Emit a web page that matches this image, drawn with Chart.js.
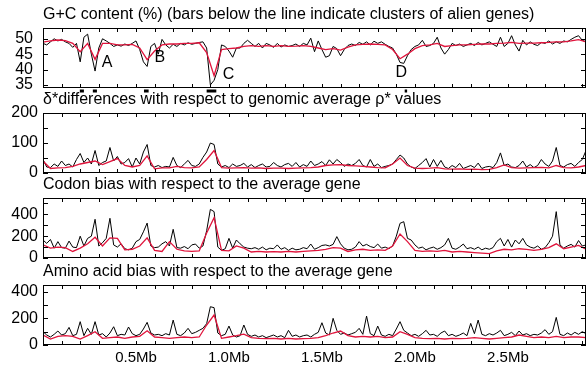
<!DOCTYPE html>
<html>
<head>
<meta charset="utf-8">
<script src="https://cdn.jsdelivr.net/npm/chart.js@4.4.0/dist/chart.umd.min.js"></script>
<style>
  body { margin: 0; background: #fff; }
  #wrap { position: relative; width: 587px; height: 365px; overflow: hidden; }
  canvas { position: absolute; left: 0; }
</style>
</head>
<body>
<div id="wrap">
  <canvas id="c1" width="587" height="112" style="top:0px"></canvas>
  <canvas id="c2" width="587" height="112" style="top:85px"></canvas>
  <canvas id="c3" width="587" height="112" style="top:170px"></canvas>
  <canvas id="c4" width="587" height="108" style="top:257px"></canvas>
</div>
<script>
// window spacing (Mb) of the two curves
const fineStep = 0.02;
const smoothStep = 0.04;
const genomeEnd = 2.92;

// G+C content (%)
const gcBlack = [
  48.5, 48, 49, 50, 49.3, 49.8, 49, 48.5, 47.2, 48.5,
  42.5, 50.5, 51.5, 45, 39.5, 47, 50, 49.3, 48.5, 47.5,
  48, 47.6, 48.3, 47.8, 48.5, 49.3, 46.5, 42.5, 41, 47.5,
  48.5, 45, 49.8, 48, 47, 48.2, 47.5, 48.5, 48, 48.7,
  48.2, 48.5, 48.8, 49, 47, 35, 36.5, 40, 48, 47.5,
  46, 44, 47, 47, 48.5, 49.5, 48.5, 47.5, 48.5, 47,
  48.5, 48, 47.2, 48.5, 47.3, 48, 47.5, 47.8, 48.3, 47.5,
  48.5, 48, 50.2, 45.8, 49.3, 46.5, 44, 44.5, 47.5, 46.8,
  44.5, 46.5, 47.8, 48.3, 47.8, 48.8, 48.2, 49, 48, 49.2,
  48.5, 49, 48.2, 47.5, 47, 45, 42.3, 42, 44.5, 46.5,
  47.5, 48, 49.5, 47.5, 47.8, 48.5, 50.5, 47, 45, 46.5,
  48.5, 47.8, 48.3, 47.5, 48, 48.5, 47.8, 48.8, 48, 48.5,
  49, 48.2, 47.5, 50.5, 47.5, 48.5, 51, 48, 46, 49.5,
  48, 49, 48.2, 47.8, 48.8, 48.5, 49.3, 48.3, 49, 48.5,
  49.3, 49, 49.8, 50.5, 51, 49.5, 49
];
const gcRed = [
  48.9, 49.3, 49.6, 49.4, 48.5, 45.8, 48.5, 43.3, 48.5, 48.5,
  48, 48, 48.2, 47, 43.2, 46, 48, 48.3, 48.3, 48.5,
  48.5, 48.7, 45.5, 38, 46.5, 46.8, 47, 47.5, 47.8, 47.5,
  47.8, 47.5, 47.8, 47.5, 47.6, 47.8, 47.5, 47, 46.5, 46.8,
  46.3, 47.3, 48, 48.2, 48.3, 48.2, 48, 46.5, 43.5, 45,
  46.8, 47.8, 48, 48.5, 47.5, 47.8, 48, 48, 48.2, 48.3,
  48.3, 48.5, 48.6, 48.8, 48.5, 48.6, 48.6, 48.7, 48.8, 49,
  49, 49.3, 49.7, 49
];

// delta* differences
const deltaBlack = [
  45, 20, 18, 30, 22, 40, 25, 30, 20, 45,
  65, 35, 50, 30, 75, 25, 35, 40, 85, 40,
  55, 30, 35, 48, 20, 50, 30, 70, 95, 25,
  20, 25, 18, 22, 20, 52, 25, 18, 30, 42,
  25, 22, 30, 52, 70, 100, 95, 30, 20, 25,
  18, 30, 22, 25, 32, 20, 28, 18, 25, 30,
  20, 22, 35, 25, 20, 28, 32, 22, 35, 20,
  28, 22, 40, 25, 30, 38, 25, 44, 30, 45,
  35, 22, 30, 25, 32, 45, 25, 20, 45, 22,
  30, 18, 22, 25, 30, 45, 60, 50, 30, 20,
  15, 25, 35, 48, 20, 45, 22, 42, 20, 15,
  25, 18, 32, 15, 20, 25, 18, 33, 15, 20,
  22, 18, 35, 67, 25, 30, 20, 18, 25, 40,
  20, 28, 18, 25, 45, 30, 22, 40, 85, 25,
  20, 28, 32, 22, 35, 45, 75
];
const deltaRed = [
  40, 15, 17, 18, 22, 30, 35, 40, 28, 38,
  48, 25, 20, 25, 57, 14, 17, 17, 22, 18,
  17, 20, 45, 75, 18, 16, 17, 18, 16, 17,
  15, 16, 16, 15, 16, 17, 18, 20, 25, 27,
  28, 25, 24, 22, 20, 18, 17, 30, 50, 25,
  16, 15, 16, 18, 14, 13, 14, 12, 13, 11,
  12, 18, 27, 18, 16, 17, 18, 19, 17, 25,
  18, 17, 20, 25
];

// codon bias
const codonBlack = [
  165, 134, 170, 90, 150, 95, 90, 155, 100, 95,
  200, 110, 180, 200, 355, 110, 140, 180, 364, 120,
  100, 130, 85, 75, 90, 150, 170, 240, 320, 110,
  95, 100, 130, 150, 110, 263, 95, 90, 105, 85,
  120, 128, 90, 110, 250, 446, 425, 100, 70, 85,
  180, 90, 165, 130, 100, 90, 85, 95, 80, 100,
  75, 90, 85, 120, 80, 95, 70, 90, 75, 80,
  95, 85, 128, 80, 95, 115, 120, 110, 125, 196,
  130, 90, 75, 80, 100, 150, 110, 125, 105, 95,
  128, 90, 100, 85, 110, 200, 318, 333, 180, 165,
  120, 90, 100, 75, 90, 100, 80, 95, 120, 180,
  90, 80, 100, 128, 85, 95, 80, 100, 75, 90,
  80, 95, 150, 180, 110, 170, 100, 165, 130, 180,
  120, 100, 90, 110, 80, 95, 140, 200, 425, 120,
  90, 110, 125, 100, 160, 110, 120
];
const codonRed = [
  120, 90, 100, 95, 60, 90, 130, 190, 110, 185,
  180, 75, 80, 110, 185, 70, 60, 150, 80, 65,
  60, 65, 230, 370, 70, 65, 110, 90, 55, 60,
  55, 58, 55, 60, 55, 60, 65, 70, 80, 95,
  90, 60, 75, 80, 70, 75, 70, 110, 220, 150,
  70, 60, 65, 60, 70, 55, 60, 55, 50, 45,
  40, 65, 80, 75, 85, 80, 70, 80, 95, 130,
  85, 100, 115, 80
];

// amino acid bias
const aminoBlack = [
  100, 75, 60, 80, 105, 75, 85, 132, 70, 80,
  175, 70, 125, 80, 175, 75, 85, 60, 90, 137,
  70, 80, 75, 135, 85, 70, 80, 120, 170, 90,
  75, 80, 70, 85, 75, 187, 80, 70, 90, 125,
  85, 95, 110, 125, 160, 287, 280, 90, 70, 80,
  142, 75, 60, 70, 150, 80, 65, 75, 60, 70,
  55, 65, 75, 60, 70, 55, 110, 65, 75, 60,
  70, 75, 60, 80, 95, 167, 90, 75, 200, 110,
  80, 90, 75, 85, 95, 125, 80, 217, 85, 70,
  142, 75, 65, 80, 70, 120, 175, 110, 90, 70,
  80, 65, 85, 110, 75, 80, 65, 90, 105, 70,
  80, 65, 75, 90, 70, 162, 85, 187, 80, 70,
  85, 75, 90, 110, 70, 80, 95, 70, 105, 75,
  85, 70, 80, 75, 90, 115, 80, 100, 207, 80,
  70, 90, 75, 95, 80, 100, 85
];
const aminoRed = [
  75, 45, 65, 70, 65, 45, 70, 100, 50, 55,
  60, 50, 60, 65, 107, 60, 55, 50, 55, 60,
  55, 60, 150, 225, 50, 60, 70, 82, 55, 50,
  48, 50, 45, 50, 45, 48, 50, 55, 70, 90,
  105, 70, 60, 65, 60, 65, 55, 60, 100, 80,
  55, 50, 48, 50, 45, 50, 48, 50, 55, 50,
  45, 50, 55, 60, 75, 65, 55, 60, 55, 65,
  55, 60, 60, 55
];

// clusters of alien genes (Mb ranges) and region letters
const alienClusters = [[0.198, 0.22], [0.268, 0.29], [0.543, 0.568], [0.88, 0.932], [1.945, 1.958]];
const regionLetters = ['A', 'B', 'C', 'D'];
const regionPos = [[0.344, 42.4], [0.628, 43.8], [0.998, 38.2], [1.927, 38.9]];

const FONT = '"Liberation Sans", Arial, Helvetica, sans-serif';
const RED = '#e0143c';

function toPoints(values, step) {
  return values.map((v, i) => ({ x: +(i * step).toFixed(3), y: v }));
}

const framePlugin = {
  id: 'frame',
  afterDatasetsDraw(chart, args, opts) {
    const { ctx, chartArea: a, scales: { x, y } } = chart;
    ctx.save();
    ctx.strokeStyle = '#000';
    ctx.lineWidth = 1;
    ctx.strokeRect(a.left + 0.5, a.top + 0.5, a.width - 1, a.height - 1);
    ctx.beginPath();
    x.ticks.forEach(t => {
      const px = Math.round(x.getPixelForValue(t.value)) + 0.5;
      ctx.moveTo(px, a.top); ctx.lineTo(px, a.top + 4);
      ctx.moveTo(px, a.bottom); ctx.lineTo(px, a.bottom - 4);
    });
    y.ticks.forEach(t => {
      const py = Math.round(y.getPixelForValue(t.value)) + 0.5;
      ctx.moveTo(a.left, py); ctx.lineTo(a.left + 5, py);
      ctx.moveTo(a.right, py); ctx.lineTo(a.right - 5, py);
    });
    ctx.stroke();

    if (opts.marks) {
      ctx.fillStyle = '#000';
      ctx.font = '16px ' + FONT;
      ctx.textAlign = 'center';
      ctx.textBaseline = 'middle';
      regionLetters.forEach((l, i) => {
        ctx.fillText(l, x.getPixelForValue(regionPos[i][0]), y.getPixelForValue(regionPos[i][1]));
      });
      alienClusters.forEach(([s, e]) => {
        const x1 = x.getPixelForValue(s), x2 = x.getPixelForValue(e);
        ctx.fillRect(x1, a.bottom + 1.5, Math.max(x2 - x1, 2), 3);
      });
    }
    ctx.restore();
  }
};

function makePanel(id, title, black, red, yMin, yMax, yStep, yLabels, showX, labelPad) {
  new Chart(document.getElementById(id), {
    type: 'line',
    data: {
      datasets: [{
        data: toPoints(red, smoothStep),
        borderColor: RED,
        borderWidth: 1.3,
        pointRadius: 0,
        tension: 0
      }, {
        data: toPoints(black, fineStep),
        borderColor: '#000',
        borderWidth: 1,
        pointRadius: 0,
        tension: 0
      }]
    },
    options: {
      responsive: false,
      animation: false,
      layout: { padding: { left: 0, right: 1, top: 0, bottom: showX ? 0 : 24 } },
      plugins: {
        legend: { display: false },
        tooltip: { enabled: false },
        title: {
          display: true,
          text: title,
          align: 'start',
          fullSize: false,
          color: '#000',
          font: { family: FONT, size: 16, weight: 'normal' },
          padding: { top: 4.8, bottom: 4 }
        },
        frame: { marks: id === 'c1' }
      },
      scales: {
        x: {
          type: 'linear',
          display: showX,
          min: 0,
          max: genomeEnd,
          grid: { display: false, drawTicks: false },
          border: { display: false },
          afterFit: s => { if (showX) s.height = 20; },
          ticks: {
            stepSize: 0.1,
            includeBounds: false,
            autoSkip: false,
            maxRotation: 0,
            padding: 4,
            color: '#000',
            font: { family: FONT, size: 15 },
            callback: v => {
              const k = Math.round(v * 10);
              return k > 0 && k % 5 === 0 ? (k / 10).toFixed(1) + 'Mb' : '';
            }
          }
        },
        y: {
          min: yMin,
          max: yMax,
          grid: { display: false, drawTicks: false },
          border: { display: false },
          afterFit: s => { s.width = 43; },
          ticks: {
            stepSize: yStep,
            includeBounds: false,
            autoSkip: false,
            padding: labelPad,
            color: '#000',
            font: { family: FONT, size: 16 },
            callback: v => yLabels.includes(v) ? String(v) : ''
          }
        }
      }
    },
    plugins: [framePlugin]
  });
}

makePanel('c1', 'G+C content (%) (bars below the line indicate clusters of alien genes)',
  gcBlack, gcRed, 34, 53.5, 5, [35, 40, 45, 50], false, 10);
makePanel('c2', '\u03b4*differences with respect to genomic average \u03c1* values',
  deltaBlack, deltaRed, 0, 200, 50, [0, 100, 200], false, 5);
makePanel('c3', 'Codon bias with respect to the average gene',
  codonBlack, codonRed, 0, 550, 100, [0, 200, 400], false, 5);
makePanel('c4', 'Amino acid bias with respect to the average gene',
  aminoBlack, aminoRed, 0, 450, 100, [0, 200, 400], true, 5);
</script>
</body>
</html>
